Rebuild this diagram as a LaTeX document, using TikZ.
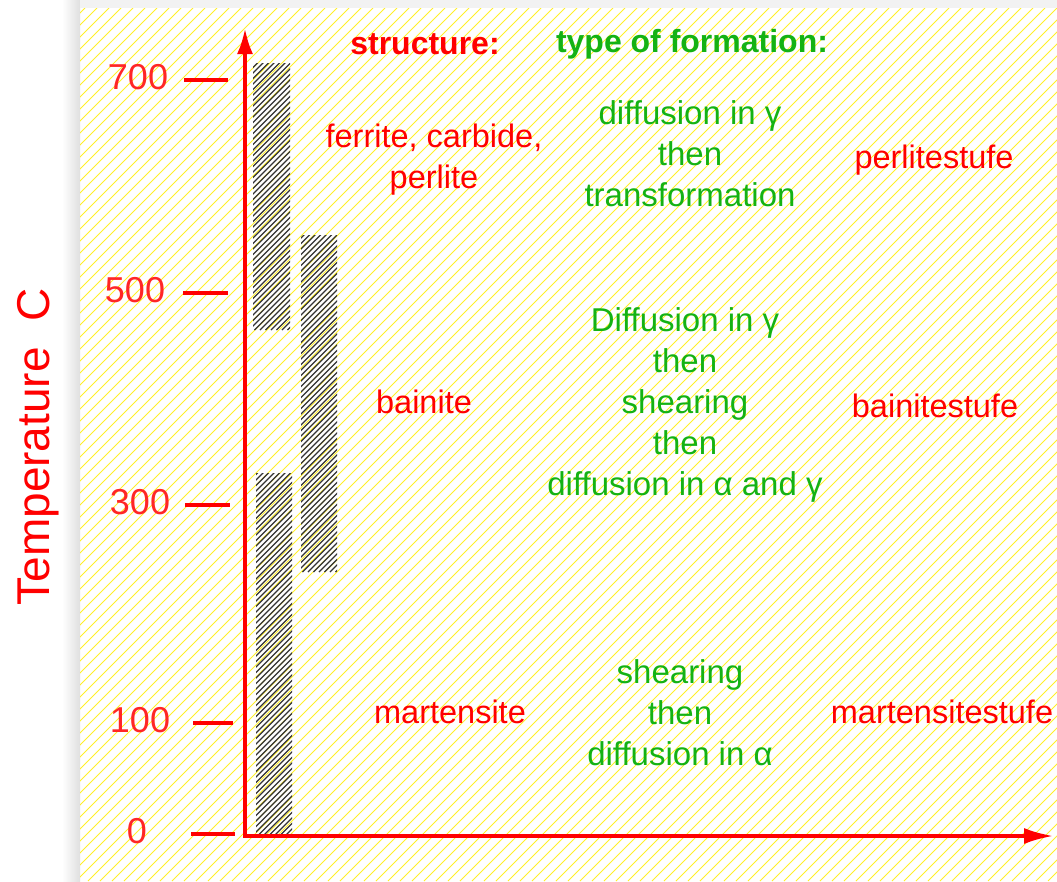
\documentclass[tikz,border=0pt]{standalone}
\usepackage{fontspec}
\setmainfont{Liberation Sans}
\usetikzlibrary{arrows.meta}

\definecolor{hatchyellow}{RGB}{255,240,40}
\definecolor{axisred}{RGB}{255,0,0}
\definecolor{formgreen}{RGB}{20,178,20}

\tikzset{
  axis/.style={draw=axisred, line width=4pt},
  tickmark/.style={draw=axisred, line width=4pt},
  ticklabel/.style={text=axisred!85, font=\fontsize{36}{36}\selectfont},
  structtext/.style={text=axisred, align=center, font=\fontsize{32.5}{41}\selectfont},
  formtext/.style={text=formgreen, align=center, font=\fontsize{33}{41}\selectfont},
  headtext/.style={font=\bfseries\fontsize{32}{32}\selectfont},
  hatchbar/.style={draw=black!80, line width=1.1pt},
}

\begin{document}
\begin{tikzpicture}[x=1pt,y=-1pt]
  \useasboundingbox (0,0) rectangle (1057,881);
  \fill[white] (0,0) rectangle (1057,881);
  \shade[left color=white,right color=gray!25] (62,0) rectangle (80,881);
  \fill[gray!10] (80,0) rectangle (1057,8);

  % yellow hatched panel
  \begin{scope}
    \clip (80,8) rectangle (1057,881);
    \foreach \x in {-800,-788,...,1060}
      \draw[hatchyellow, line width=1pt] (\x,881) -- ++(873,-873);
  \end{scope}

  % hatched bars
  \foreach \xa/\ya/\xb/\yb in {253/63/290/330, 256/473/292/836, 301/235/337/572} {
    \begin{scope}
      \clip (\xa,\ya) rectangle (\xb,\yb);
      \foreach \s in {0,5.5,...,440}
        \draw[hatchbar] (\xa+\s-400,\yb) -- ++(400,-400);
    \end{scope}
  }

  % axes
  \coordinate (ytop) at (245,28);
  \coordinate (origin) at (245,836);
  \coordinate (xend) at (1054,836);
  \draw[axis, {Latex[length=26pt,width=16pt]}-{Latex[length=30pt,width=16pt]}]
    (ytop) -- (origin) -- (xend);

  % ticks and their values
  \foreach \val/\y/\xa/\xb/\lx in {700/80/184/228/138, 500/293/183/228/135,
                                   300/505/185/230/140, 100/723/193/233/140, 0/834/191/235/137} {
    \draw[tickmark] (\xa,\y) -- (\xb,\y);
    \node[ticklabel] (t\val) at (\lx,\y-3) {\val};
  }

  \node[rotate=90, text=axisred, font=\fontsize{46}{46}\selectfont] (templabel) at (38,447) {Temperature\ \ C};

  % headers
  \node[headtext, text=axisred] (structhead) at (425,44) {structure:};
  \node[headtext, text=formgreen] (formhead) at (692,44) {type of formation:};

  % perlite row
  \node[structtext] (ferrite) at (434,160) {ferrite, carbide,\\perlite};
  \node[formtext] (perlform) at (690,154) {diffusion in γ\\then\\transformation};
  \node[structtext] (perlstufe) at (934,160) {perlitestufe};

  % bainite row
  \node[structtext] (bainite) at (424,402) {bainite};
  \node[formtext] (bainform) at (685,405) {Diffusion in γ\\then\\shearing\\then\\diffusion in α and γ};
  \node[structtext] (bainstufe) at (935,406) {bainitestufe};

  % martensite row
  \node[structtext] (martensite) at (450,712) {martensite};
  \node[formtext] (martform) at (680,713) {shearing\\then\\diffusion in α};
  \node[structtext] (martstufe) at (942,712) {martensitestufe};
\end{tikzpicture}
\end{document}
